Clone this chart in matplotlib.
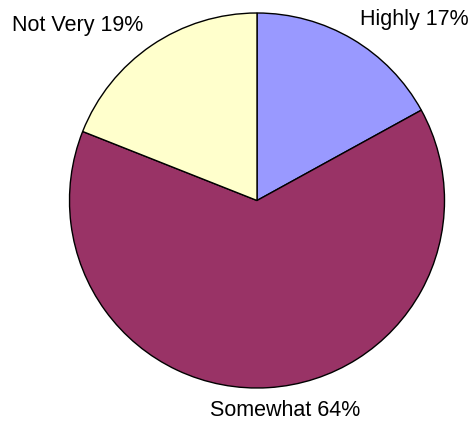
import matplotlib
matplotlib.use("Agg")
import matplotlib.pyplot as plt

categories = ["Highly", "Somewhat", "Not Very"]
values = [17, 64, 19]
colors = ["#9999FF", "#993366", "#FFFFCC"]

plt.rcParams['font.family'] = ['Liberation Sans', 'DejaVu Sans']

fig = plt.figure(figsize=(4.74, 4.27), dpi=100)
ax = fig.add_axes([0, 0, 1, 1])

ax.pie(values, colors=colors, startangle=90, counterclock=False,
       center=(257, 225.5), radius=187.5,
       wedgeprops=dict(edgecolor='black', linewidth=1.0))
ax.set_xlim(0, 474)
ax.set_ylim(0, 427)
ax.set_aspect('auto')
ax.axis('off')

label_pos = [(414.5, 407), (285, 16), (77.5, 402)]
for cat, v, (x, y) in zip(categories, values, label_pos):
    ax.text(x, y, f"{cat} {v}%", ha='center', va='center', fontsize=15.5)

fig.savefig("out.png", dpi=100)
